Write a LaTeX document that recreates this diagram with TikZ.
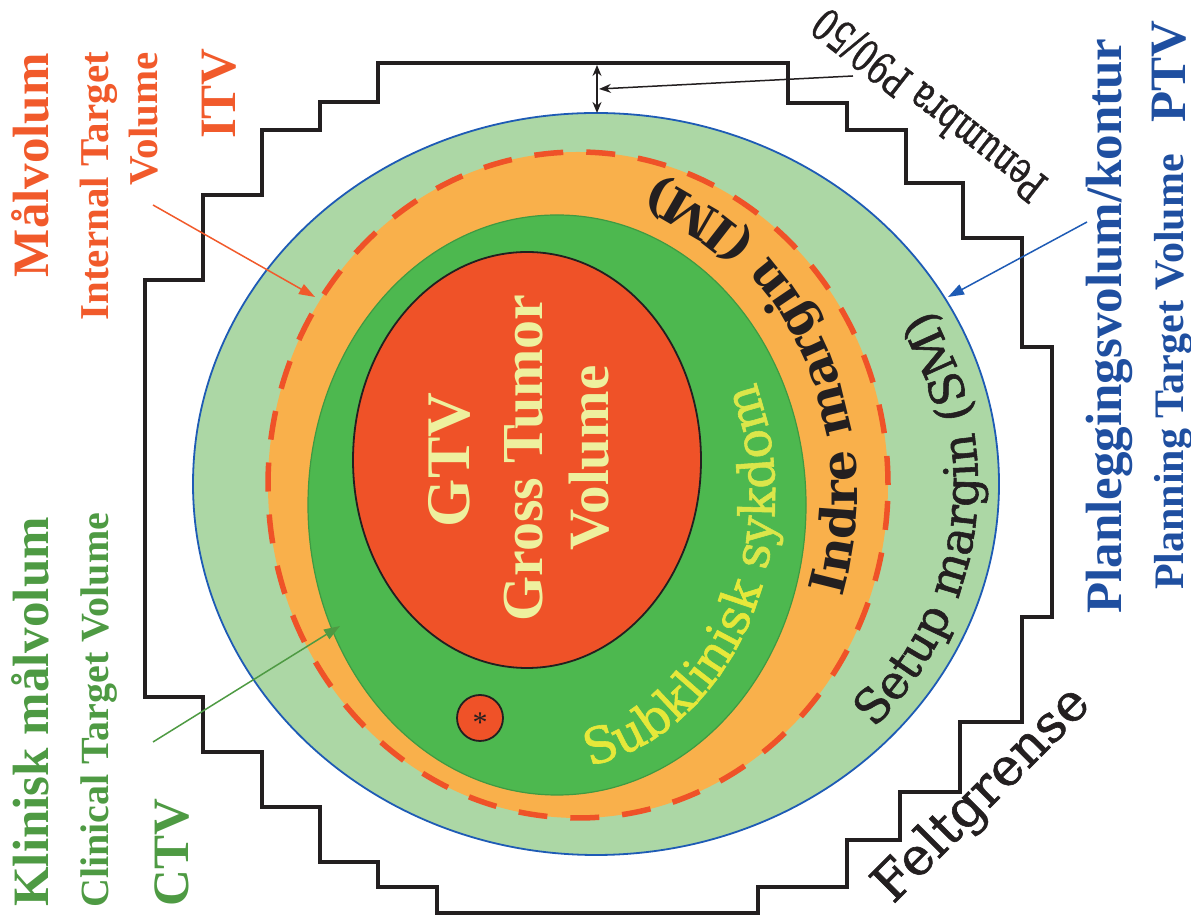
\documentclass[tikz,border=0pt]{standalone}
\usepackage{fontspec}
\setmainfont{Liberation Serif}
\newfontfamily\dvs{DejaVu Serif}
\newfontfamily\dvsm{DejaVu Serif}[FakeBold=1.2]
\usetikzlibrary{arrows.meta,decorations.text,calc}
\definecolor{lgreen}{HTML}{ACD7A5}
\definecolor{orng}{HTML}{F9B04B}
\definecolor{dgreen}{HTML}{4DB84F}
\definecolor{dgreenline}{HTML}{3F9A42}
\definecolor{gtvred}{HTML}{EF5228}
\definecolor{ptvblue}{HTML}{1E5BB5}
\definecolor{tred}{HTML}{F15A2B}
\definecolor{tgreen}{HTML}{4E9A43}
\definecolor{tblue}{HTML}{1F4FA0}
\definecolor{gtvtext}{HTML}{EEF09E}
\definecolor{subA}{HTML}{E6E83A}
\definecolor{subB}{HTML}{DCE64A}
\definecolor{blk}{HTML}{231F20}
\tikzset{
  lbl/.style={inner sep=0pt, rotate=90},
  fs/.style={font=\bfseries\fontsize{#1}{#1}\selectfont},
  leader/.style={line width=1.5pt, -{Triangle[length=16pt,width=11pt]}},
}
\begin{document}
\begin{tikzpicture}[x=1pt,y=1pt]
\useasboundingbox (0,0) rectangle (1191,917);
% volumes
\draw[fill=lgreen, draw=ptvblue, line width=1.8pt] (596,433) ellipse [x radius=403pt, y radius=371pt];
\fill[orng] (578,432) ellipse [x radius=310pt, y radius=333pt];
\draw[fill=dgreen, draw=dgreenline, line width=1.2pt] (557,412) ellipse [x radius=249pt, y radius=290pt];
\draw[fill=gtvred, draw=blk, line width=1.8pt] (527,457) ellipse [x radius=174pt, y radius=208pt];
\draw[gtvred, line width=5.5pt, dash pattern=on 29pt off 23pt] (578,432) ellipse [x radius=310pt, y radius=333pt];
\draw[fill=gtvred, draw=blk, line width=1.8pt] (480,199) circle [radius=23pt];
\node[inner sep=0pt, font=\fontsize{30}{30}\selectfont, text=blk] (ast) at (480,194) {*};
% field border
\draw[blk, line width=4pt]
 (378,854) -- (788,854) -- (788,814) -- (847,814) -- (847,787) -- (906,787) -- (906,734)
 -- (963,734) -- (963,679) -- (1022,679) -- (1022,570) -- (1052,570) -- (1052,300)
 -- (1022,300) -- (1022,195) -- (960,195) -- (960,125) -- (900,125) -- (900,77)
 -- (847,77) -- (847,30) -- (758,30) -- (758,4) -- (437,4) -- (437,30) -- (378,30)
 -- (378,55) -- (320,55) -- (320,110) -- (262,110) -- (262,165) -- (203,165)
 -- (203,220) -- (145,220) -- (145,637) -- (203,637) -- (203,722) -- (262,722)
 -- (262,787) -- (320,787) -- (320,815) -- (378,815) -- cycle;
% GTV text
\node[lbl, fs=62, text=gtvtext, anchor=base] (gtv1) at (469,457) {GTV};
\node[lbl, fs=58, text=gtvtext, anchor=base] (gtv2) at (542,459) {Gross Tumor};
\node[lbl, fs=57, text=gtvtext, anchor=base] (gtv3) at (608,459) {Volume};
% curved texts
\path[decorate, decoration={text along path, text align=left, text color=blk,
  text={|\dvs\bfseries\fontsize{49}{49}\selectfont|Indre margin (IM)}}]
  ($(567,422)+(-18:290pt and 332pt)$) arc[start angle=-18, end angle=120, x radius=290pt, y radius=332pt];
\path[decorate, decoration={text along path, text align=left, text color=blk,
  text={|\dvsm\fontsize{47}{47}\selectfont|Setup margin (SM)}}]
  ($(590,433)+(-43:388pt and 358pt)$) arc[start angle=-43, end angle=80, x radius=388pt, y radius=358pt];
\path[decorate, decoration={text along path, text align=left, text color=subA,
  text={|\dvsm\fontsize{49.5}{49.5}\selectfont|Subklinisk |\dvsm\fontsize{49.5}{49.5}\selectfont\color{subB}|sykdom}}]
  ($(550,422)+(-80:225pt and 275pt)$) arc[start angle=-80, end angle=60, x radius=225pt, y radius=275pt];
% Feltgrense and penumbra
\node[inner sep=0pt, anchor=base west, rotate=45, font=\dvsm\fontsize{52}{52}\selectfont, text=blk] (felt) at (893,12) {Feltgrense};
\node[inner sep=0pt, anchor=base west, rotate=142, xscale=0.71, font=\dvsm\fontsize{44}{44}\selectfont, text=blk] (pen) at (1050,737) {Penumbra P90/50};
\coordinate (pa) at (597,852);
\coordinate (pb) at (597,804);
\draw[blk, line width=1.5pt, {Stealth[length=11pt,width=9pt]}-{Stealth[length=11pt,width=9pt]}] (pa) -- (pb);
\coordinate (ps) at (853,841);
\coordinate (pe) at (599,828);
\draw[blk, line width=1.5pt, -{Stealth[length=12pt,width=9pt]}] (ps) -- (pe);
% left labels
\node[lbl, fs=51, text=tred, anchor=base east] (malv) at (48,864) {Målvolum};
\node[lbl, fs=41, text=tred, anchor=base east] (itl1) at (108,865) {Internal Target};
\node[lbl, fs=41, text=tred, anchor=base east] (itl2) at (157,865) {Volume};
\node[lbl, fs=51, text=tred, anchor=base east] (itvl) at (235,869) {ITV};
\node[lbl, fs=51, text=tgreen, anchor=base west] (klin) at (48,10) {Klinisk målvolum};
\node[lbl, fs=40, text=tgreen, anchor=base west] (clin) at (108,9) {Clinical Target Volume};
\node[lbl, fs=51, text=tgreen, anchor=base west] (ctvl) at (188,10) {CTV};
% right labels
\node[lbl, fs=51, text=tblue, anchor=base west] (plan) at (1121,303) {Planleggingsvolum/kontur};
\node[lbl, fs=42, text=tblue, anchor=base west] (ptvl) at (1183,327) {Planning Target Volume};
\node[lbl, fs=51, text=tblue, anchor=base west] (ptv) at (1185,794) {PTV};
% leaders
\coordinate (itvs) at (153,712);
\coordinate (itve) at (315,620);
\draw[leader, tred] (itvs) -- (itve);
\coordinate (ctvs) at (153,175);
\coordinate (ctve) at (340,291);
\draw[leader, tgreen] (ctvs) -- (ctve);
\coordinate (ptvs) at (1087,695);
\coordinate (ptve) at (948,620);
\draw[leader, ptvblue] (ptvs) -- (ptve);
\end{tikzpicture}
\end{document}
